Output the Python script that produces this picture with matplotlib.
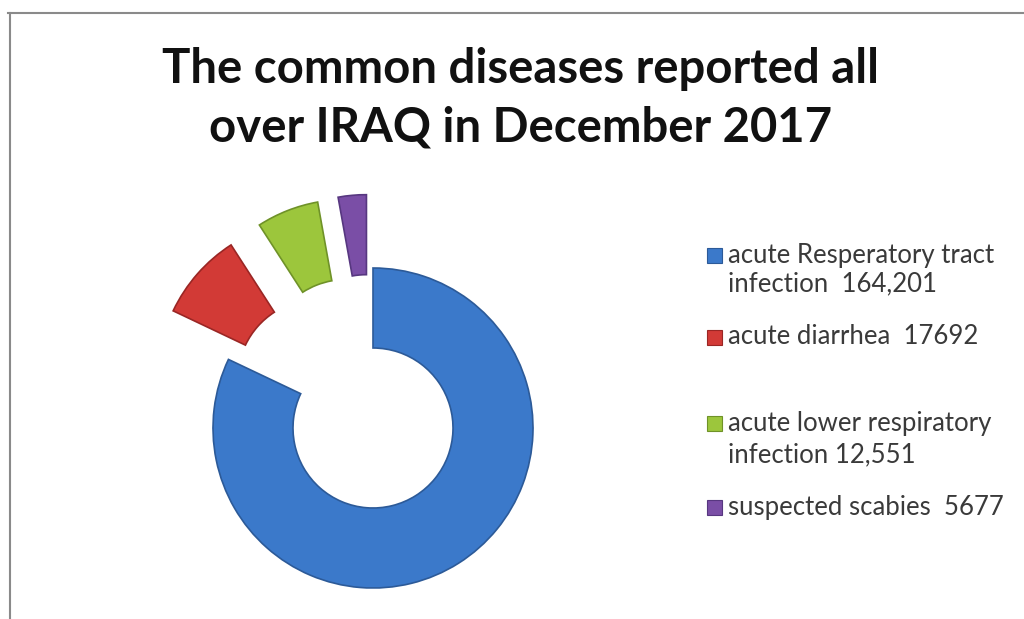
import matplotlib.pyplot as plt
from matplotlib.patches import Rectangle

diseases = ['acute Resperatory tract infection', 'acute diarrhea',
            'acute lower respiratory infection', 'suspected scabies']
cases = [164201, 17692, 12551, 5677]
legend_labels = ['acute Resperatory tract\ninfection  164,201',
                 'acute diarrhea  17692',
                 'acute lower respiratory\ninfection 12,551',
                 'suspected scabies  5677']
title_lines = ['The common diseases reported all', 'over IRAQ in December 2017']
colors = ['#3b79ca', '#d23a36', '#9cc63c', '#7a4ea6']
edges = ['#2c5a98', '#9a2624', '#6f9228', '#573780']
explode = [0, 0.46, 0.46, 0.46]

W, H = 1024, 619
fig = plt.figure(figsize=(W / 100, H / 100), dpi=100)
fig.patch.set_facecolor('white')

def px(x, y):
    # pixel (from top-left) -> figure fraction
    return x / W, 1 - y / H

# donut: centre (373, 428) px, outer radius 160 px
cx, cy, r = 373, 428, 160
half = 1.5 * r
ax = fig.add_axes([(cx - half) / W, (H - cy - half) / H, 2 * half / W, 2 * half / H])
wedges, _ = ax.pie(cases, colors=colors, startangle=90, counterclock=False,
                   explode=explode, radius=1,
                   wedgeprops=dict(width=0.5, linewidth=1.2))
for w, ec in zip(wedges, edges):
    w.set_edgecolor(ec)
ax.set_xlim(-1.5, 1.5)
ax.set_ylim(-1.5, 1.5)
ax.set_aspect('equal')
ax.axis('off')

# frame lines (only top and left are visible in the original)
fig.add_artist(plt.Line2D([8 / W, 1], [1 - 13 / H, 1 - 13 / H], color='#8a8a8a', lw=1.5))
fig.add_artist(plt.Line2D([10 / W, 10 / W], [0, 1 - 13 / H], color='#8a8a8a', lw=1.5))

# title, two lines on fixed baselines
for line, base in zip(title_lines, [83, 142]):
    fig.text(*px(521, base), line, ha='center', va='baseline', fontsize=34,
             fontweight='bold', family='Lato', color='#111111')

# legend drawn by hand, uneven spacing as in the original
leg_rows = [[255, 284], [337], [423, 455], [507]]
for lab, col, ec, rows in zip(legend_labels, colors, edges, leg_rows):
    fig.add_artist(Rectangle(px(707, rows[0] + 8), 15 / W, 15 / H,
                             facecolor=col, edgecolor=ec, lw=0.8))
    for line, y in zip(lab.split('\n'), rows):
        fig.text(*px(728, y), line, ha='left', va='center', fontsize=18.5,
                 family='Lato', color='#3a3a3a')

fig.savefig('out.png', dpi=100)
